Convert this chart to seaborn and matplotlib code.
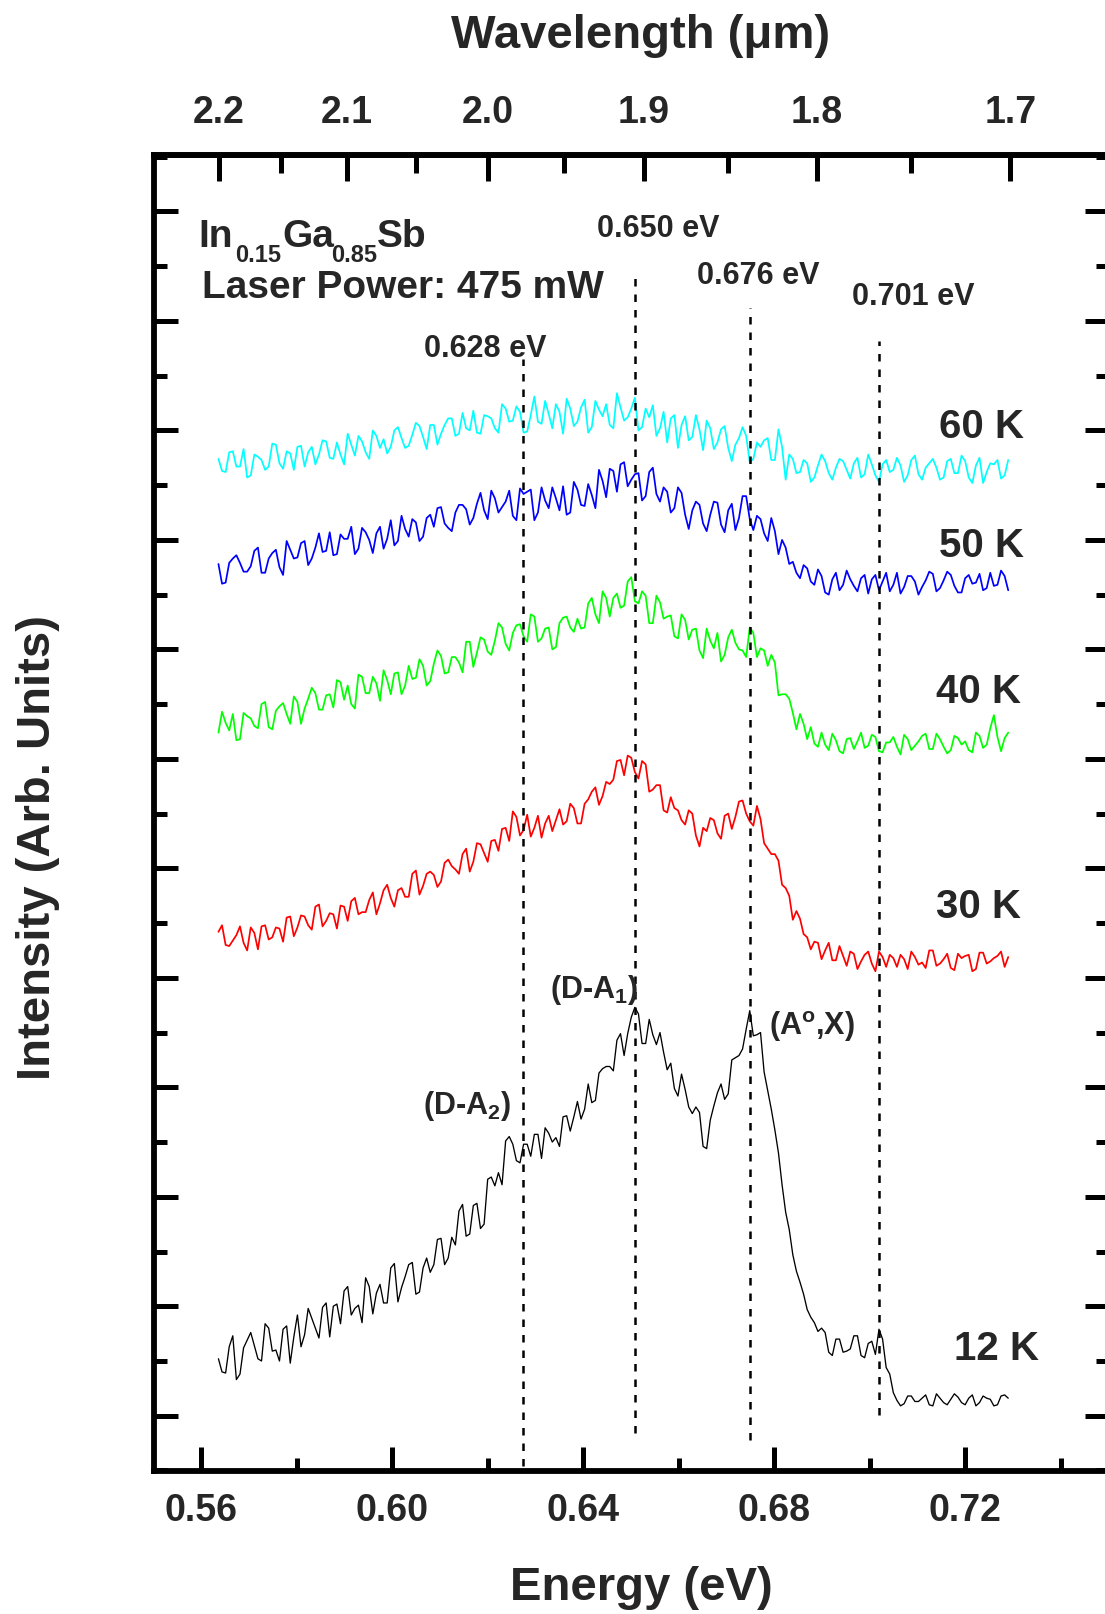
import numpy as np
import pandas as pd
import matplotlib
matplotlib.use("Agg")
import matplotlib.pyplot as plt
import seaborn as sns
from matplotlib.ticker import MultipleLocator, FixedLocator, FormatStrFormatter, NullFormatter

# ---------------- data ----------------
E_START, E_STOP = 0.5636, 0.7290          # spectral window of every trace (eV)

# samples on the main grid (111 points) ...
pl_60K = [874,862,881,867,857,878,873,867,887,865,879,885,867,885,878,890,874,878,897,877,
          890,874,895,892,885,903,884,896,904,883,905,897,911,895,916,900,898,914,911,898,
          920,909,917,899,931,906,915,924,897,920,908,928,903,919,924,902,921,912,930,903,
          912,895,917,911,884,913,894,901,909,883,901,884,887,903,871,889,891,873,901,855,
          874,862,870,857,878,861,866,872,856,875,860,869,853,873,864,868,859,877,855,870,
          866,857,874,861,872,852,875,862,869,856,873]
pl_50K = [778,761,783,779,771,790,770,783,791,768,791,784,799,783,806,790,786,805,801,787,
          811,800,806,792,818,799,810,819,799,820,812,830,811,825,832,814,833,827,845,825,
          835,822,847,844,818,848,829,838,849,825,846,831,841,864,839,863,869,849,860,836,
          862,842,848,825,848,823,827,832,808,835,814,827,809,840,819,822,806,820,787,793,
          780,765,774,759,767,750,770,759,764,753,768,764,754,770,759,751,767,762,757,771,
          753,763,768,752,765,760,769,756,758,772,754]
pl_40K = [624,633,641,618,639,630,650,629,644,651,632,652,646,665,645,658,647,670,667,646,
          675,660,669,681,659,679,667,673,691,667,687,694,679,693,679,707,697,709,695,724,
          705,715,723,707,730,710,720,702,729,720,728,720,747,724,747,747,738,762,744,753,
          724,749,728,731,710,727,718,699,719,701,689,711,706,699,720,693,699,695,658,659,
          642,641,618,614,624,608,617,605,619,616,610,622,607,615,620,604,618,612,621,609,
          623,611,608,619,616,606,621,613,640,607,624]
pl_30K = [442,430,434,447,425,441,447,435,446,433,456,446,456,444,467,452,458,466,452,473,
          460,471,458,480,473,480,474,495,476,495,494,488,508,499,513,497,523,514,525,516,
          537,552,530,549,537,528,548,544,540,559,541,559,570,558,579,581,599,603,588,598,
          570,576,553,565,553,540,550,520,534,544,527,550,547,562,543,557,523,513,507,482,
          453,454,437,433,417,432,416,420,424,408,421,413,424,410,418,421,408,419,414,425,
          411,417,409,422,420,406,423,413,418,424,419]
pl_12K = [52,39,73,38,69,64,50,80,60,79,48,92,74,89,71,103,100,84,118,98,
          85,118,112,103,135,104,127,140,113,144,138,162,144,156,193,166,194,175,218,222,
          251,248,231,248,257,235,258,254,273,260,287,280,286,313,319,315,349,349,373,340,
          362,339,332,322,292,298,276,277,244,283,303,294,327,335,370,348,314,280,240,186,
          147,122,97,85,80,58,70,58,61,73,53,68,79,44,21,9,18,13,16,10,
          20,12,15,17,10,19,12,16,9,18,16]

# ... and half-way between them (110 points)
pl_60K_mid = [863,880,867,883,859,876,864,888,870,881,864,886,880,869,891,875,889,869,887,895,
              880,900,884,879,900,893,886,907,894,905,887,905,911,897,902,918,897,913,902,924,
              908,922,898,914,908,927,902,917,929,904,921,898,927,913,905,934,909,920,900,920,
              923,902,889,914,905,891,914,882,902,889,904,872,893,895,874,885,893,873,885,878,
              861,873,853,868,872,855,874,864,870,857,878,859,869,862,875,853,873,860,866,874,
              855,872,861,877,857,868,852,870,873,859]
pl_50K_mid = [760,779,786,771,776,793,770,788,775,799,783,797,777,793,789,807,787,801,812,792,
              807,788,812,801,795,822,803,816,803,823,829,815,808,832,828,820,843,819,838,830,
              845,818,842,846,825,836,848,827,823,853,832,851,829,854,865,844,871,855,861,840,
              866,835,844,829,843,810,835,815,823,834,807,833,820,840,809,819,799,808,800,778,
              770,777,762,773,752,764,754,772,758,765,751,768,762,753,770,757,767,750,763,769,
              756,771,758,752,768,761,754,770,759,767]
pl_40K_mid = [643,626,617,642,637,628,652,627,648,641,657,632,655,660,645,659,672,654,650,677,
              660,675,653,672,678,659,685,674,685,671,699,678,693,688,707,684,711,698,708,720,
              699,722,712,732,707,719,700,724,730,716,719,742,732,753,730,751,740,766,742,749,
              724,743,730,712,732,709,719,692,708,715,695,718,700,693,715,701,685,688,659,655,
              627,632,629,611,613,623,607,618,609,624,612,620,606,615,611,622,608,616,623,609,
              618,605,621,613,608,624,610,628,620,619]
pl_30K_mid = [448,429,439,432,446,426,448,437,445,455,438,457,448,465,447,459,445,465,470,458,
              460,478,468,485,465,482,474,498,484,497,483,505,502,495,518,506,522,506,526,536,
              525,547,535,529,548,541,534,554,543,555,541,563,574,566,577,598,585,601,582,595,
              572,576,551,555,544,553,530,537,546,532,548,536,561,550,539,545,518,513,485,475,
              461,440,426,432,425,416,429,411,422,415,424,406,419,421,410,417,424,412,409,425,
              413,422,407,418,421,408,423,415,420,410]
pl_12K_mid = [40,63,33,62,76,52,84,59,50,82,72,63,98,80,99,72,102,114,92,101,
              126,93,120,103,139,117,138,111,135,131,161,138,163,187,164,192,171,216,210,211,
              255,233,248,237,257,263,250,246,274,273,271,303,288,317,319,343,329,364,367,340,
              348,350,316,299,312,282,282,246,270,295,289,325,329,353,347,350,297,261,211,170,
              132,111,90,77,76,55,70,59,73,55,66,56,70,38,14,11,18,13,19,9,
              16,10,20,12,16,9,18,15,10,19]

temps = ["60 K", "50 K", "40 K", "30 K", "12 K"]
series = [pl_60K, pl_50K, pl_40K, pl_30K, pl_12K]
series_mid = [pl_60K_mid, pl_50K_mid, pl_40K_mid, pl_30K_mid, pl_12K_mid]
colors = ["#00FFFF", "#0000FF", "#00FF00", "#FF0000", "#000000"]
temp_label_x = [0.7235, 0.7235, 0.7227, 0.7228, 0.7265]
temp_label_y = [903, 794, 661, 465, 61]

peak_energies = [0.6273, 0.6508, 0.6749, 0.7019]     # where the dotted lines sit
peak_labels = ["0.628 eV", "0.650 eV", "0.676 eV", "0.701 eV"]
peak_line_top = [965, 1045, 1012, 982]
peak_line_bottom = [-46, -16, -22, 1]
peak_label_x = [0.6194, 0.6557, 0.6766, 0.7092]
peak_label_y = [974, 1084, 1041, 1022]

trans_labels = [r"(D-A$_{\mathbf{2}}$)", r"(D-A$_{\mathbf{1}}$)", r"(A$^{\mathbf{o}}$,X)"]
trans_x = [0.6065, 0.6330, 0.6789]
trans_y = [283, 389, 355]

energy_major = [0.56, 0.60, 0.64, 0.68, 0.72]
wl_major = [2.2, 2.1, 2.0, 1.9, 1.8, 1.7]
wl_minor = [2.15, 2.05, 1.95, 1.85, 1.75]
HC = 1.24  # eV*um

# ---------------- style ----------------
sns.set_style("white")
plt.rcParams["font.family"] = ["Liberation Sans", "DejaVu Sans"]
plt.rcParams["font.weight"] = "bold"
plt.rcParams["mathtext.fontset"] = "custom"
plt.rcParams["mathtext.rm"] = "Liberation Sans:bold"
plt.rcParams["mathtext.bf"] = "Liberation Sans:bold"
plt.rcParams["mathtext.it"] = "Liberation Sans:bold"

W, H = 1105, 1614
fig = plt.figure(figsize=(W / 100, H / 100), dpi=100)
ax = fig.add_axes([153.5 / W, 143 / H, 955 / W, 1316 / H])

for name, vals, mids, col in zip(temps, series, series_mid, colors):
    grid = np.linspace(E_START, E_STOP, len(vals))
    half = 0.5 * (grid[:-1] + grid[1:])
    df = pd.concat([pd.DataFrame({"energy": grid, "intensity": vals}),
                    pd.DataFrame({"energy": half[:len(mids)], "intensity": mids})])
    df = df.sort_values("energy")
    sns.lineplot(data=df, x="energy", y="intensity", color=col, ax=ax,
                 linewidth=0.95 if col == "#000000" else 1.25,
                 estimator=None, sort=False, legend=False)

ax.set_xlim(0.55, 0.75)
ax.set_ylim(-50.5, 1151.6)
ax.set_xlabel("")
ax.set_ylabel("")

# dotted guide lines
ax.vlines(peak_energies, peak_line_bottom, peak_line_top, colors="black",
          linestyles=(0, (3, 3.2)), linewidth=1.8)

for x, y, s in zip(peak_label_x, peak_label_y, peak_labels):
    ax.text(x, y, s, ha="center", va="center", fontsize=22, fontweight="bold")
for x, y, s in zip(temp_label_x, temp_label_y, temps):
    ax.text(x, y, s, ha="center", va="center", fontsize=29, fontweight="bold")
for x, y, s in zip(trans_x, trans_y, trans_labels):
    ax.text(x, y, s, ha="left", va="center", fontsize=22, fontweight="bold")

# composition / power annotation
big, small = 28, 17
ax.text(0.0471, 0.9304, "In", transform=ax.transAxes, fontsize=big, va="baseline")
ax.text(0.0853, 0.9187, "0.15", transform=ax.transAxes, fontsize=small, va="baseline")
ax.text(0.1346, 0.9304, "Ga", transform=ax.transAxes, fontsize=big, va="baseline")
ax.text(0.1859, 0.9187, "0.85", transform=ax.transAxes, fontsize=small, va="baseline")
ax.text(0.2340, 0.9304, "Sb", transform=ax.transAxes, fontsize=big, va="baseline")
ax.text(0.0508, 0.8911, "Laser Power: 475 mW", transform=ax.transAxes,
        fontsize=big, va="baseline")

# axes / ticks
for sp in ax.spines.values():
    sp.set_linewidth(4.2)
    sp.set_color("black")
ax.xaxis.set_major_locator(FixedLocator(energy_major))
ax.xaxis.set_minor_locator(MultipleLocator(0.02))
ax.xaxis.set_major_formatter(FormatStrFormatter("%.2f"))
ax.yaxis.set_major_locator(MultipleLocator(100))
ax.yaxis.set_minor_locator(MultipleLocator(50))
ax.yaxis.set_major_formatter(NullFormatter())
ax.tick_params(which="both", direction="in", width=3.6, top=False, right=True,
               left=True, bottom=True, labelleft=False, color="black")
ax.tick_params(which="major", length=17.3)
ax.tick_params(which="minor", length=9.4)
ax.tick_params(axis="x", which="major", labelsize=27, pad=16)

sec = ax.secondary_xaxis("top", functions=(lambda e: HC / np.asarray(e, float),
                                           lambda w: HC / np.asarray(w, float)))
sec.xaxis.set_major_locator(FixedLocator(wl_major))
sec.xaxis.set_minor_locator(FixedLocator(wl_minor))
sec.xaxis.set_major_formatter(FormatStrFormatter("%.1f"))
sec.tick_params(which="both", direction="in", width=3.6, color="black")
sec.tick_params(which="major", length=18.7, labelsize=27, pad=17)
sec.tick_params(which="minor", length=13)
sec.spines["top"].set_linewidth(4.2)

fig.text(641 / W, 1 - 1588 / H, "Energy (eV)", ha="center", va="center",
         fontsize=34, fontweight="bold")
fig.text(640.5 / W, 1 - 36 / H, "Wavelength (μm)", ha="center", va="center",
         fontsize=34, fontweight="bold")
fig.text(38 / W, 1 - 847 / H, "Intensity (Arb. Units)", ha="center", va="center",
         rotation=90, fontsize=34, fontweight="bold")

fig.savefig("out.png", dpi=100)
